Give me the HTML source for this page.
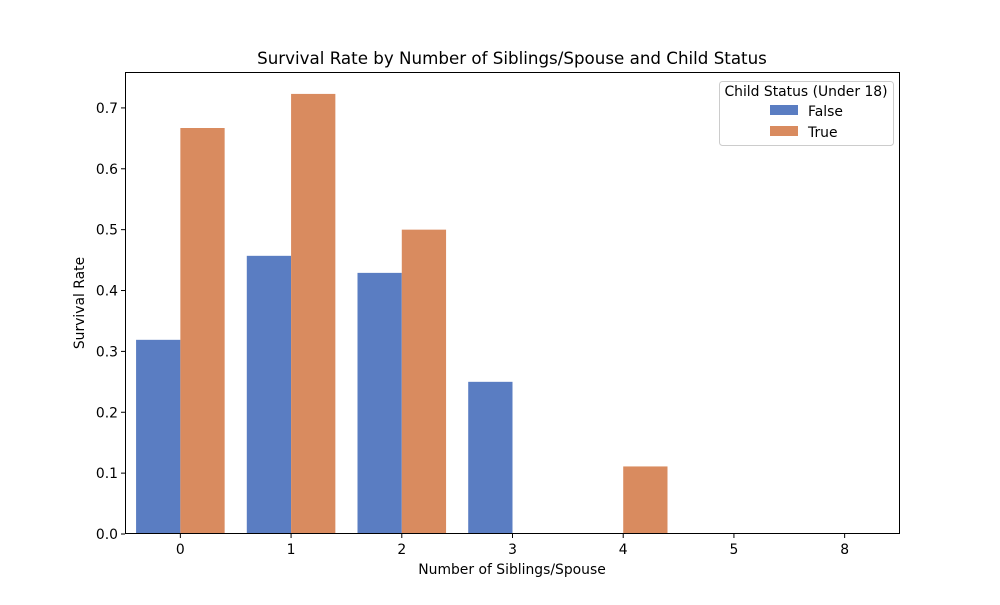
<!DOCTYPE html>
<html><head><meta charset="utf-8"><style>
body{margin:0;background:#fff}
svg text{font-family:"DejaVu Sans","Liberation Sans",sans-serif;fill:#000}
</style></head><body>
<svg id="chart" width="1000" height="600">
<rect width="1000" height="600" fill="#fff"/>
<text x="512" y="64" font-size="16.7" text-anchor="middle">Survival Rate by Number of Siblings/Spouse and Child Status</text>
<g id="bars"></g>
<g id="axes"></g>
<text x="512" y="574" font-size="13.9" text-anchor="middle">Number of Siblings/Spouse</text>
<text transform="translate(84,303) rotate(-90)" font-size="13.9" text-anchor="middle">Survival Rate</text>
<g>
<rect x="719.5" y="81.5" width="174" height="64" rx="3" fill="#fff" stroke="#ccc"/>
<text x="806" y="96" font-size="13.9" text-anchor="middle">Child Status (Under 18)</text>
<rect x="770" y="105" width="28" height="10" fill="#5a7dc2"/>
<text x="808" y="116" font-size="13.9">False</text>
<rect x="770" y="126" width="28" height="10" fill="#d98b5f"/>
<text x="808" y="137" font-size="13.9">True</text>
</g>
</svg>
<script>
const categories=["0","1","2","3","4","5","8"];
const falseValues=[0.319,0.457,0.429,0.25,0,0,0];
const trueValues=[0.667,0.723,0.5,0,0.111,0,0];
const yTicks=[0,0.1,0.2,0.3,0.4,0.5,0.6,0.7];
const L=125,R=900,T=72,B=534,yMax=0.759;
const ns="http://www.w3.org/2000/svg";
const band=(R-L)/categories.length;
const xc=i=>L+band*(i+0.5);
const y=v=>B-(v/yMax)*(B-T);
function mk(t,a,p){const e=document.createElementNS(ns,t);for(const k in a)e.setAttribute(k,a[k]);p.appendChild(e);return e;}
const bars=document.getElementById('bars'),axes=document.getElementById('axes');
const bw=band*0.4;
categories.forEach((c,i)=>{
  const b1=mk('rect',{x:xc(i)-bw,y:y(falseValues[i]),width:bw,height:B-y(falseValues[i]),fill:'#5a7dc2'},bars);
  
  
  const b2=mk('rect',{x:xc(i),y:y(trueValues[i]),width:bw,height:B-y(trueValues[i]),fill:'#d98b5f'},bars);
  
  
  const tk=mk('line',{x1:xc(i),x2:xc(i),y1:B,y2:B+4,stroke:'#000'},axes);
  
  
  const tl=mk('text',{x:xc(i),y:B+20,'font-size':13.9,'text-anchor':'middle'},axes);
  tl.textContent=c;
  
  
});
yTicks.forEach(v=>{
  const tk=mk('line',{x1:L-4,x2:L,y1:y(v),y2:y(v),stroke:'#000'},axes);
  
  
  const tl=mk('text',{x:L-7,y:y(v)+5,'font-size':13.9,'text-anchor':'end'},axes);
  tl.textContent=v.toFixed(1);
  
  
});
const fr=mk('rect',{x:L+0.5,y:T+0.5,width:R-L-1,height:B-T-1,fill:'none',stroke:'#000','stroke-width':1},axes);


</script>
</body></html>
